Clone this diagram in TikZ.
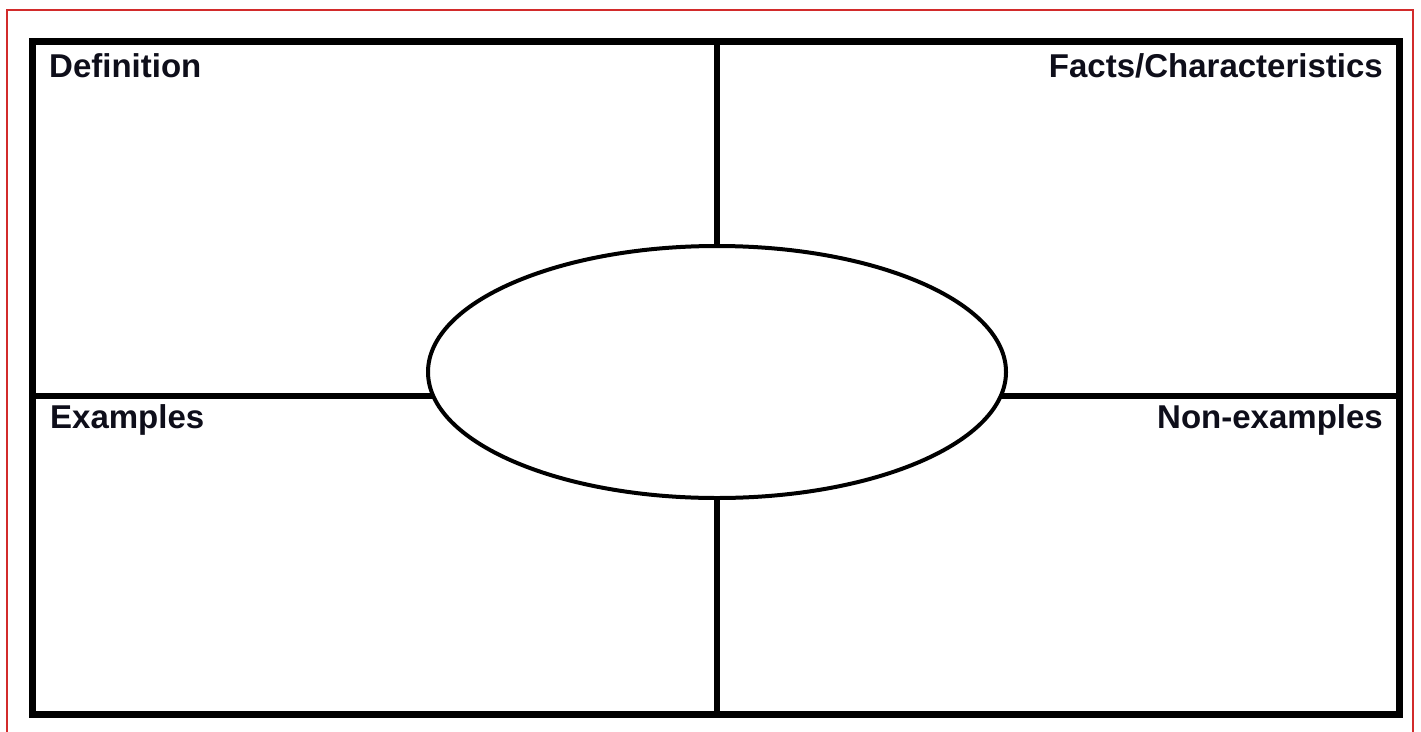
\documentclass[tikz,border=0pt]{standalone}
\usepackage{fontspec}
\setmainfont{Liberation Sans}
\usetikzlibrary{shapes.geometric}
\definecolor{FrameRed}{HTML}{D22B2B}
\definecolor{LabelInk}{HTML}{0E0E1A}

\tikzset{
  framebox/.style={line width=7pt},
  divider/.style={line width=6.5pt},
  quadlabel/.style={inner sep=0pt, text=LabelInk, font=\fontsize{33}{39}\selectfont\bfseries}
}

\begin{document}
\begin{tikzpicture}[x=1pt, y=-1pt]
  \useasboundingbox[fill=white] (0,0) rectangle (1421,731);
  % thin red outline of the page
  \draw[FrameRed, line width=1.6pt] (7,740) -- (7,10) -- (1413,10) -- (1413,740);

  % frame and the two dividers
  \coordinate (nw) at (32,41);
  \coordinate (se) at (1399,714);
  \coordinate (top) at (717,41);
  \coordinate (bottom) at (717,714);
  \coordinate (left) at (32,396);
  \coordinate (right) at (1399,396);
  \draw[framebox] (nw) rectangle (se);
  \draw[divider] (top) -- (bottom);
  \draw[divider] (left) -- (right);

  % centre oval
  \node[
    ellipse,
    draw,
    fill=white,
    line width=4pt,
    inner sep=0pt,
    minimum width=578pt,
    minimum height=252pt
  ] (centre) at (717,372) {};

  \node[quadlabel, anchor=base west] (definition) at (49,77) {Definition};
  \node[quadlabel, anchor=base east] (facts) at (1383,77) {Facts/Characteristics};
  \node[quadlabel, anchor=base west] (examples) at (50,428) {Examples};
  \node[quadlabel, anchor=base east] (nonexamples) at (1383,428) {Non-examples};
\end{tikzpicture}
\end{document}
